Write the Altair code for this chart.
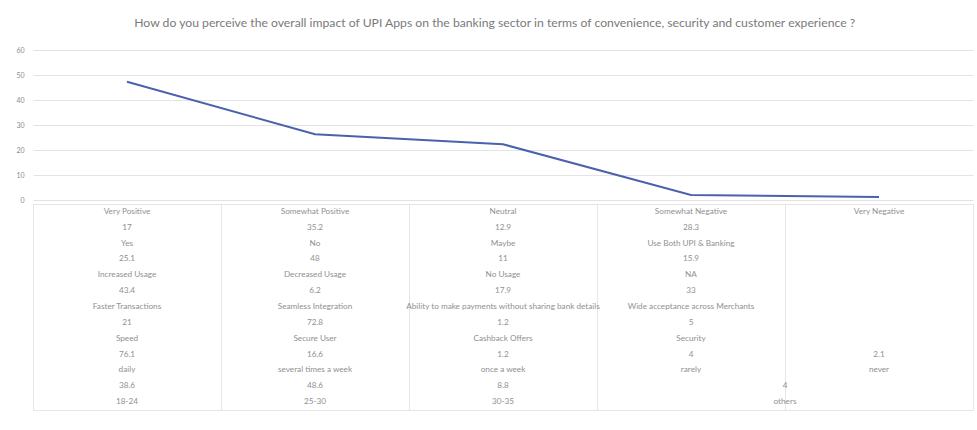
import altair as alt
import pandas as pd

# ---- data ----
categories = ["Very Positive", "Somewhat Positive", "Neutral", "Somewhat Negative", "Very Negative"]
impact_values = [47.3, 26.3, 22.3, 2.0, 1.2]

col_very_positive = ["Very Positive", "17", "Yes", "25.1", "Increased Usage", "43.4",
                     "Faster Transactions", "21", "Speed", "76.1", "daily", "38.6", "18-24"]
col_somewhat_positive = ["Somewhat Positive", "35.2", "No", "48", "Decreased Usage", "6.2",
                         "Seamless Integration", "72.8", "Secure User", "16.6",
                         "several times a week", "48.6", "25-30"]
col_neutral = ["Neutral", "12.9", "Maybe", "11", "No Usage", "17.9",
               "Ability to make payments without sharing bank details", "1.2",
               "Cashback Offers", "1.2", "once a week", "8.8", "30-35"]
col_somewhat_negative = ["Somewhat Negative", "28.3", "Use Both UPI & Banking", "15.9", "NA", "33",
                         "Wide acceptance across Merchants", "5", "Security", "4", "rarely", "", ""]
col_very_negative = ["Very Negative", "", "", "", "", "", "", "", "", "2.1", "never", "", ""]
# cells merged across the last two columns
merged_cells = ["", "", "", "", "", "", "", "", "", "", "", "4", "others"]

title_text = ("How do you perceive the overall impact of UPI Apps on the banking sector "
              "in terms of convenience, security and customer experience ?")

# ---- tables ----
line_df = pd.DataFrame({"category": categories, "value": impact_values})

cols = [col_very_positive, col_somewhat_positive, col_neutral, col_somewhat_negative, col_very_negative]
recs = []
for cat, col in zip(categories, cols):
    for i, t in enumerate(col):
        if t:
            recs.append({"category": cat, "row": i, "text": t})
table_df = pd.DataFrame(recs)
merged_df = pd.DataFrame([{"category": "Very Negative", "row": i, "text": t}
                          for i, t in enumerate(merged_cells) if t])

W = 940
FONT = "Lato"
TXT = "#909090"
FS = 8.2

xscale = alt.Scale(type="band", domain=categories, paddingInner=0, paddingOuter=0)

line = alt.Chart(line_df).mark_line(color="#4a62ad", strokeWidth=2).encode(
    x=alt.X("category:N", sort=categories, scale=xscale, axis=None),
    y=alt.Y("value:Q", scale=alt.Scale(domain=[0, 60]),
            axis=alt.Axis(values=[0, 10, 20, 30, 40, 50, 60], title=None, ticks=False,
                          domain=False, labelPadding=9, labelFontSize=7, labelColor="#8c8c8c",
                          labelFont=FONT, gridColor="#e3e3e3", gridWidth=1)),
).properties(width=W, height=150, view=alt.ViewBackground(stroke=None))

row_scale = alt.Scale(type="band", domain=list(range(13)), paddingInner=0, paddingOuter=0)

cells = alt.Chart(table_df).mark_text(font=FONT, fontSize=FS, color=TXT).encode(
    x=alt.X("category:N", sort=categories, scale=xscale,
            axis=alt.Axis(title=None, labels=False, ticks=False, domain=False, grid=True,
                          tickBand="extent", gridColor="#e6e6e6", gridWidth=1)),
    y=alt.Y("row:O", scale=row_scale, axis=None),
    text="text:N",
)
merged = alt.Chart(merged_df).mark_text(font=FONT, fontSize=FS, color=TXT, dx=-94).encode(
    x=alt.X("category:N", sort=categories, scale=xscale),
    y=alt.Y("row:O", scale=row_scale, axis=None),
    text="text:N",
)
table = alt.layer(cells, merged).properties(
    width=W, height=206, view=alt.ViewBackground(stroke="#e6e6e6"))

chart = alt.vconcat(line, table, spacing=0).properties(
    title=alt.TitleParams(title_text, fontSize=12.2, font=FONT, fontWeight="normal",
                          color="#7a7a7a", anchor="middle", offset=17),
    padding={"left": 15, "top": 16, "right": 2, "bottom": 10},
).configure_view(strokeWidth=1)

chart.save("out.html", embed_options={"renderer": "svg", "actions": False})
